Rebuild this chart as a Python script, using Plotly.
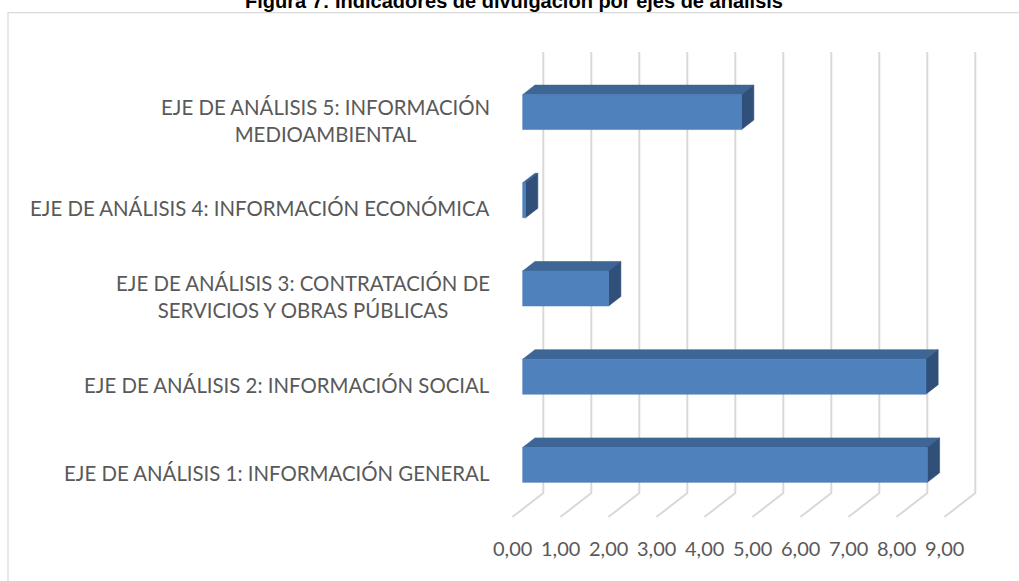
import plotly.graph_objects as go

# ---------------- data ----------------
categories = [
    "EJE DE ANÁLISIS 1: INFORMACIÓN GENERAL",
    "EJE DE ANÁLISIS 2: INFORMACIÓN SOCIAL",
    "EJE DE ANÁLISIS 3: CONTRATACIÓN DE<br>SERVICIOS Y OBRAS PÚBLICAS",
    "EJE DE ANÁLISIS 4: INFORMACIÓN ECONÓMICA",
    "EJE DE ANÁLISIS 5: INFORMACIÓN<br>MEDIOAMBIENTAL",
]
values = [8.43, 8.40, 1.79, 0.06, 4.56]
tick_values = [0, 1, 2, 3, 4, 5, 6, 7, 8, 9]
tick_labels = ["0,00", "1,00", "2,00", "3,00", "4,00", "5,00", "6,00", "7,00", "8,00", "9,00"]
title_text = "Figura 7: Indicadores de divulgación por ejes de análisis"

# ---------------- oblique 3-D projection helpers ----------------
DX = 0.644   # depth shift along value axis (full depth)
DY = 0.272   # depth shift along category axis (full depth)
D_FRONT, D_BACK = 0.667, 0.27
HALF = 0.198


def proj(v, y, d):
    return v - DX * d, y - DY * d


def poly(points):
    xs, ys = [], []
    for p in points:
        x, y = proj(*p)
        xs.append(x)
        ys.append(y)
    xs.append(xs[0])
    ys.append(ys[0])
    return xs, ys


fig = go.Figure()

# gridlines: back wall verticals + floor diagonals
gx, gy = [], []
y_lo, y_hi = -0.5, len(categories) - 0.5
for t in tick_values:
    x0, y0 = proj(t, y_lo, 0)
    x1, y1 = proj(t, y_hi, 0)
    x2, y2 = proj(t, y_lo, 1)
    gx += [x1, x0, x2, None]
    gy += [y1, y0, y2, None]
fig.add_trace(go.Scatter(x=gx, y=gy, mode="lines",
                         line=dict(color="#D9D9D9", width=2),
                         hoverinfo="skip", showlegend=False))

# bars as three faces each
faces = {"front": ([], [], "#4F81BD"), "top": ([], [], "#3D6596"), "side": ([], [], "#30507A")}
for c, v in enumerate(values):
    lo, hi = c - HALF, c + HALF
    fx, fy = poly([(0, lo, D_FRONT), (v, lo, D_FRONT), (v, hi, D_FRONT), (0, hi, D_FRONT)])
    tx, ty = poly([(0, hi, D_FRONT), (v, hi, D_FRONT), (v, hi, D_BACK), (0, hi, D_BACK)])
    sx, sy = poly([(v, lo, D_FRONT), (v, hi, D_FRONT), (v, hi, D_BACK), (v, lo, D_BACK)])
    for key, (xx, yy) in (("front", (fx, fy)), ("top", (tx, ty)), ("side", (sx, sy))):
        faces[key][0].extend(xx + [None])
        faces[key][1].extend(yy + [None])

for key in ("top", "side", "front"):
    xs, ys, col = faces[key]
    fig.add_trace(go.Scatter(x=xs, y=ys, mode="lines", fill="toself",
                             fillcolor=col, line=dict(color=col, width=0.6),
                             hoverinfo="skip", showlegend=False))

annotations = []
# category labels
for c, lab in enumerate(categories):
    x, y = proj(0, c, 1)
    annotations.append(dict(x=x, y=y, xref="x", yref="y", text=lab, showarrow=False,
                            xanchor="right", yanchor="middle", align="center", xshift=-20,
                            font=dict(family="Lato", size=20.4, color="#595959")))
# value tick labels
for t, lab in zip(tick_values, tick_labels):
    x, y = proj(t, y_lo, 1)
    annotations.append(dict(x=x, y=y, xref="x", yref="y", text=lab, showarrow=False,
                            xanchor="center", yanchor="middle", yshift=-31,
                            font=dict(family="Lato", size=20, color="#595959")))
# title (cut off at top as in the reference)
annotations.append(dict(x=514 / 1019, y=1, xref="paper", yref="paper",
                        text="<b>" + title_text + "</b>", showarrow=False,
                        xanchor="center", yanchor="bottom", yshift=-14,
                        font=dict(family="Liberation Sans", size=20, color="#000000")))

W, H = 1019, 581
PX_PER_UNIT = 48.0
X0_PX = 543.3
CAT_PX = 88.2
Y0_PX = 448.9

fig.update_layout(
    width=W, height=H,
    margin=dict(l=0, r=0, t=0, b=0),
    paper_bgcolor="white", plot_bgcolor="white",
    xaxis=dict(visible=False, range=[-X0_PX / PX_PER_UNIT, (W - X0_PX) / PX_PER_UNIT],
               fixedrange=True),
    yaxis=dict(visible=False, range=[-(H - Y0_PX) / CAT_PX, Y0_PX / CAT_PX],
               fixedrange=True),
    annotations=annotations,
    shapes=[dict(type="path", xref="paper", yref="paper",
                 path=f"M {8/W} 0 L {8/W} {1-12.7/H} L 1 {1-12.7/H}",
                 line=dict(color="#D9D9D9", width=1.2))],
)

fig.write_html("out.html", config={"displayModeBar": False},
               post_script="document.body.style.margin='0';")
